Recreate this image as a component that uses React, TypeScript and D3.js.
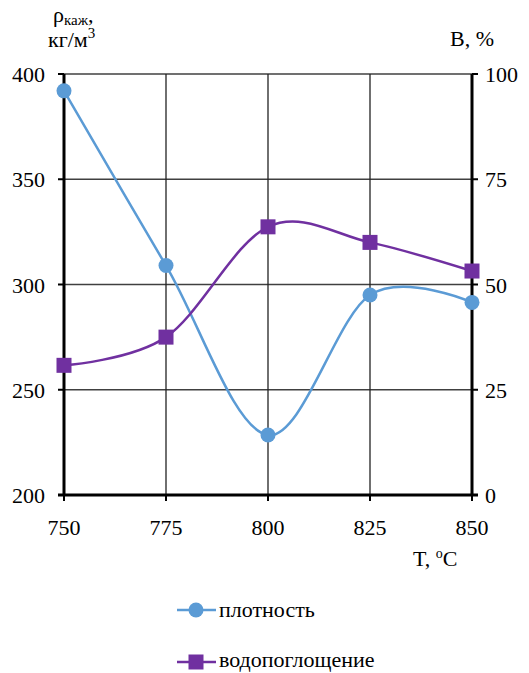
import React from "react";
import * as d3 from "d3";

const temps = [750, 775, 800, 825, 850];
const density = [392, 309, 228.5, 295, 291.5];
const absorption = [30.8, 37.5, 63.7, 60, 53.2];
const leftTicks = [200, 250, 300, 350, 400];
const rightTicks = [0, 25, 50, 75, 100];
const seriesNames = ["плотность", "водопоглощение"];

const W = 529, H = 673;
const M = { l: 64, r: 472, t: 74, b: 495 };
const FONT = "'Liberation Serif', 'DejaVu Serif', serif";
const BLUE = "#5B9BD5";
const PURPLE = "#7030A0";
const GRID = "#404040";

export default function App() {
  const x = d3.scaleLinear().domain([750, 850]).range([M.l, M.r]);
  const yL = d3.scaleLinear().domain([200, 400]).range([M.b, M.t]);
  const yR = d3.scaleLinear().domain([0, 100]).range([M.b, M.t]);
  const curve = d3.curveCardinal.tension(0);
  const lineL = d3.line<number>().x((_, i) => x(temps[i])).y(d => yL(d)).curve(curve);
  const lineR = d3.line<number>().x((_, i) => x(temps[i])).y(d => yR(d)).curve(curve);
  const ts = { fontFamily: FONT, fontSize: 22 } as React.CSSProperties;

  return (
    <svg width={W} height={H} style={{ position: "absolute", left: 0, top: 0, background: "#fff", fontFamily: FONT }}>
      {leftTicks.slice(1).map(t => (
        <line key={"h" + t} x1={M.l} x2={M.r} y1={yL(t)} y2={yL(t)} stroke={GRID} strokeWidth={1.3} />
      ))}
      {temps.slice(1, -1).map(t => (
        <line key={"v" + t} x1={x(t)} x2={x(t)} y1={M.t} y2={M.b} stroke="#222" strokeWidth={1.3} />
      ))}
      <line x1={M.l} x2={M.l} y1={M.t} y2={M.b} stroke="#000" strokeWidth={3} />
      <line x1={M.r} x2={M.r} y1={M.t} y2={M.b} stroke="#000" strokeWidth={3} />
      <line x1={M.l - 6} x2={M.r + 6} y1={M.b} y2={M.b} stroke="#000" strokeWidth={3} />
      {leftTicks.map(t => (
        <g key={"lt" + t}>
          <line x1={M.l - 6} x2={M.l} y1={yL(t)} y2={yL(t)} stroke="#000" strokeWidth={2} />
          <text x={45} y={yL(t) + 8} textAnchor="end" style={ts}>{t}</text>
        </g>
      ))}
      {rightTicks.map(t => (
        <g key={"rt" + t}>
          <line x1={M.r} x2={M.r + 6} y1={yR(t)} y2={yR(t)} stroke="#000" strokeWidth={2} />
          <text x={485} y={yR(t) + 8} textAnchor="start" style={ts}>{t}</text>
        </g>
      ))}
      {temps.map(t => (
        <g key={"bt" + t}>
          <line x1={x(t)} x2={x(t)} y1={M.b} y2={M.b + 6} stroke="#000" strokeWidth={2} />
          <text x={x(t)} y={535} textAnchor="middle" style={ts}>{t}</text>
        </g>
      ))}
      <text x={53} y={22} style={ts}>ρ<tspan style={{ fontSize: 15 }} dy={3}>каж</tspan><tspan dy={-3}>,</tspan></text>
      <text x={48} y={47} style={ts}>кг/м<tspan style={{ fontSize: 15 }} dy={-9}>3</tspan></text>
      <text x={450} y={46} style={ts}>B, %</text>
      <text x={413} y={566} style={ts}>T, <tspan style={{ fontSize: 14 }} dy={-8}>o</tspan><tspan dy={8}>C</tspan></text>
      <path d={lineL(density) || ""} fill="none" stroke={BLUE} strokeWidth={2.5} />
      <path d={lineR(absorption) || ""} fill="none" stroke={PURPLE} strokeWidth={2.5} />
      {density.map((d, i) => (
        <circle key={"c" + i} cx={x(temps[i])} cy={yL(d)} r={7.5} fill={BLUE} />
      ))}
      {absorption.map((d, i) => (
        <rect key={"s" + i} x={x(temps[i]) - 7.5} y={yR(d) - 7.5} width={15} height={15} fill={PURPLE} />
      ))}
      <g>
        <line x1={177} x2={216} y1={610} y2={610} stroke={BLUE} strokeWidth={2.5} />
        <circle cx={196} cy={610} r={7.5} fill={BLUE} />
        <text x={219} y={617} style={ts}>{seriesNames[0]}</text>
        <line x1={177} x2={216} y1={662} y2={662} stroke={PURPLE} strokeWidth={2.5} />
        <rect x={188.5} y={654.5} width={15} height={15} fill={PURPLE} />
        <text x={219} y={667} style={ts}>{seriesNames[1]}</text>
      </g>
    </svg>
  );
}
